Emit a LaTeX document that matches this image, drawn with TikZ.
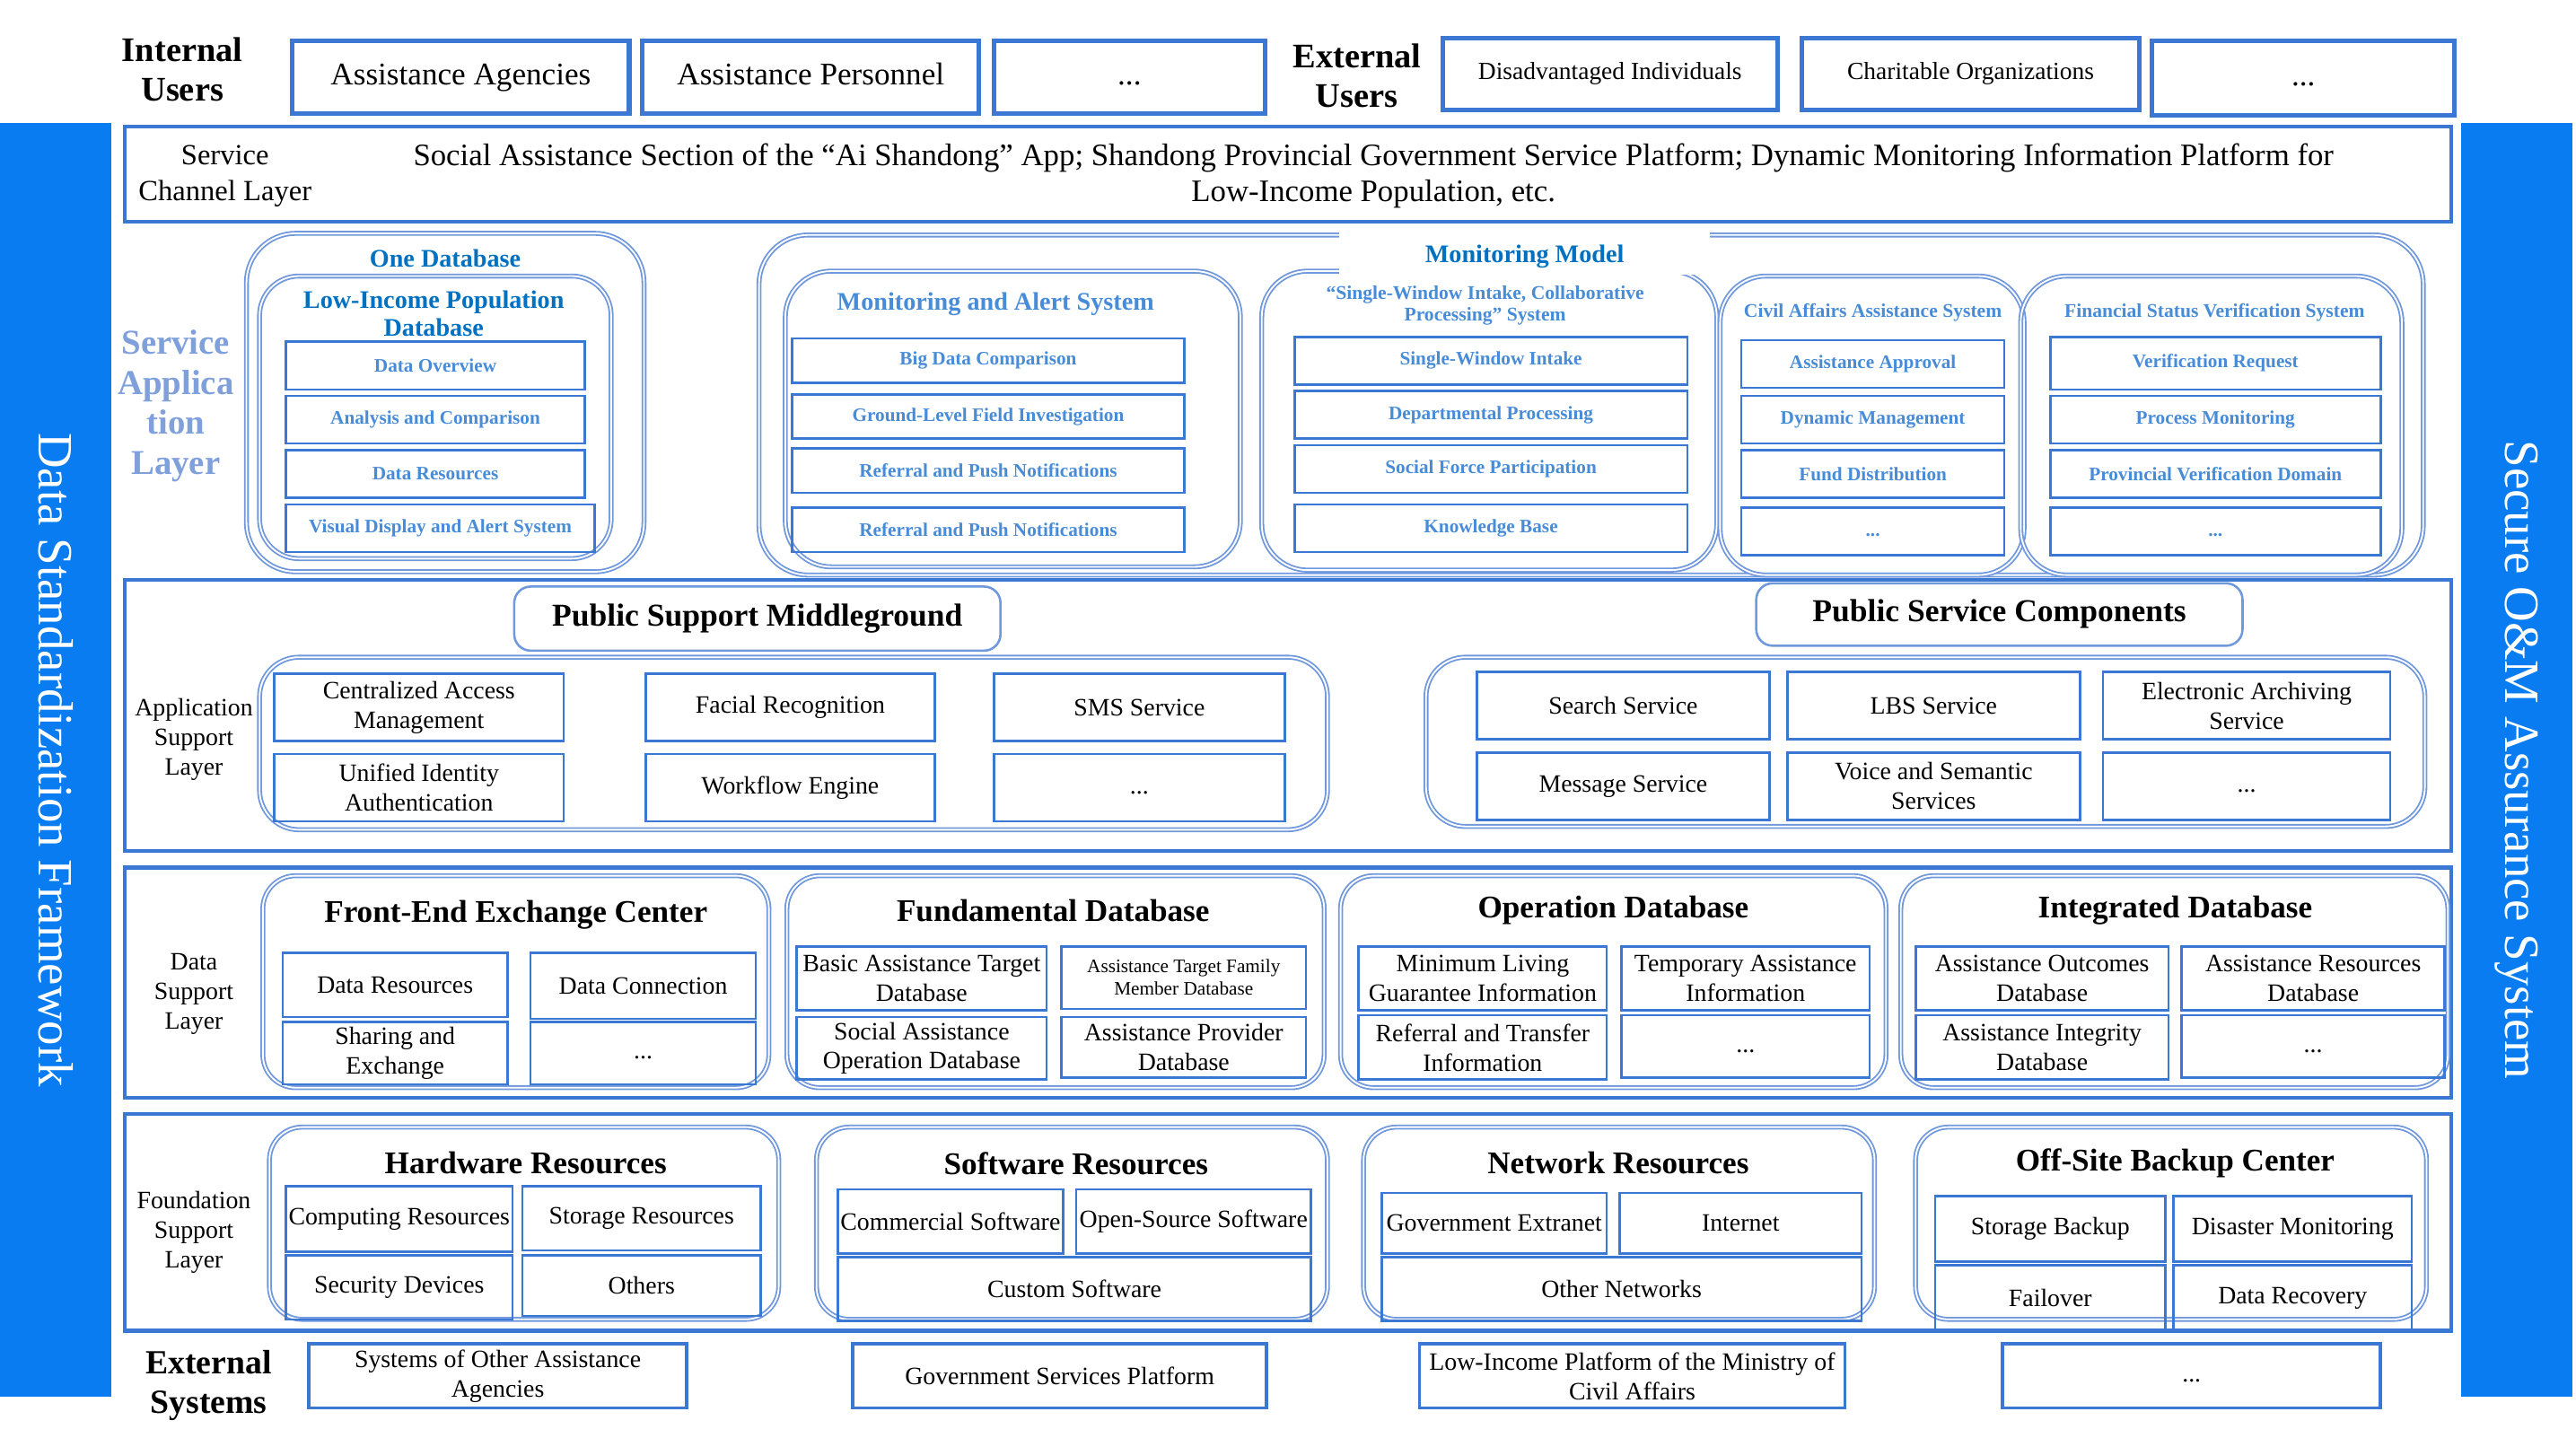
\documentclass[tikz,border=0pt]{standalone}
\usepackage{fontspec}
\setmainfont{Liberation Serif}
\usepackage{tikz}
\usetikzlibrary{fit}
\definecolor{barblue}{RGB}{8,124,240}
\definecolor{lineblue}{RGB}{59,120,211}
\definecolor{softblue}{RGB}{112,152,221}
\definecolor{titleblue}{RGB}{0,112,192}
\definecolor{itemblue}{RGB}{72,140,216}
\definecolor{layerblue}{RGB}{128,160,220}

\begin{document}
\begin{tikzpicture}[x=0.5pt,y=-0.5pt,
  usertxt/.style={align=center,font=\fontsize{9.6}{11}\selectfont},
  usersmtxt/.style={align=center,font=\fontsize{7.5}{9}\selectfont},
  itemtxt/.style={align=center,font=\fontsize{7.6}{9}\selectfont},
  itemsmtxt/.style={align=center,font=\fontsize{5.8}{6.8}\selectfont},
  apptxt/.style={align=center,text=itemblue,font=\bfseries\fontsize{5.8}{7}\selectfont},
  headtxt/.style={font=\bfseries\fontsize{9.7}{11}\selectfont},
  userbox/.style={draw=lineblue,line width=1.4pt,inner sep=0pt,label={[usertxt]center:{\strut #1}}},
  usersmbox/.style={draw=lineblue,line width=1.4pt,inner sep=0pt,label={[usersmtxt]center:{\strut #1}}},
  itembox/.style={draw=lineblue,line width=0.7pt,inner sep=0pt,label={[itemtxt]center:{#1}}},
  itemsmbox/.style={draw=lineblue,line width=0.7pt,inner sep=0pt,label={[itemsmtxt]center:{#1}}},
  extbox/.style={draw=lineblue,line width=1pt,inner sep=0pt,label={[itemtxt]center:{#1}}},
  appbox/.style={draw=lineblue,line width=0.7pt,inner sep=0pt,label={[apptxt]center:{#1}}},
  titlebox/.style={draw=softblue,line width=0.7pt,rounded corners=5pt,inner sep=0pt,label={[headtxt]center:{\strut #1}}},
  layerframe/.style={draw=lineblue,line width=1.2pt,inner sep=0pt},
  roundgrp/.style={draw=softblue,line width=0.5pt,double=white,double distance=0.5pt,rounded corners=#1,inner sep=0pt},
  roundgrp/.default=10pt,
  grptitle/.style={font=\bfseries\fontsize{9.6}{11}\selectfont},
  bluettl/.style={align=center,text=titleblue,font=\bfseries\fontsize{7.7}{8.6}\selectfont},
  appttl/.style={align=center,text=itemblue,font=\bfseries\fontsize{5.9}{6.6}\selectfont},
  lyrlbl/.style={align=center,font=\fontsize{7.6}{9}\selectfont},
  userlbl/.style={align=center,font=\bfseries\fontsize{10.5}{12}\selectfont},
  sidebar/.style={fill=barblue,inner sep=0pt},
  sidetext/.style={text=white,rotate=-90,font=\fontsize{15}{18}\selectfont}]
\useasboundingbox (0,0) rectangle (1568,875);

\node[sidebar,fit={(0,75) (68,850)}] (stdbar) {};
\node[sidetext] (stdtext) at (stdbar.center) {Data Standardization Framework};
\node[sidebar,fit={(1498,75) (1566,850)}] (secbar) {};
\node[sidetext] (sectext) at (secbar.center) {Secure O\&M Assurance System};

\node[userlbl] (intusers) at (111,42) {Internal\\Users};
\node[userbox={Assistance Agencies},fit={(178,25) (383,69)}] (agencies) {};
\node[userbox={Assistance Personnel},fit={(391,25) (596,69)}] (personnel) {};
\node[userbox={...},fit={(605,25) (770,69)}] (intmore) {};
\node[userlbl] (extusers) at (826,46) {External\\Users};
\node[usersmbox={Disadvantaged Individuals},fit={(878,23) (1082,67)}] (disadv) {};
\node[usersmbox={Charitable Organizations},fit={(1097,23) (1302,67)}] (charity) {};
\node[userbox={...},fit={(1310,25) (1494,70)}] (extmore) {};

\node[layerframe,fit={(76,77) (1492,135)}] (channel) {};
\node[align=center,font=\fontsize{8.9}{11}\selectfont] (channellbl) at (137,107) {Service\\Channel Layer};
\node[align=center,font=\fontsize{9.5}{11}\selectfont] (channeltxt) at (836,107) {Social Assistance Section of the “Ai Shandong” App; Shandong Provincial Government Service Platform; Dynamic Monitoring Information Platform for\\Low-Income Population, etc.};

\node[align=center,text=layerblue,font=\bfseries\fontsize{10.6}{12.2}\selectfont] (applbl) at (107,247) {Service\\Applica\\tion\\Layer};
\node[roundgrp=15pt,fit={(150,142) (392,348)}] (onedb) {};
\node[bluettl] (onedbttl) at (271,157) {One Database};
\node[roundgrp=12pt,fit={(158,168) (372,340)}] (lowdb) {};
\node[bluettl] (lowdbttl) at (264,191) {Low-Income Population\\Database};
\node[appbox={Data Overview},fit={(174,208) (356,237)}] (overview) {};
\node[appbox={Analysis and Comparison},fit={(174,241) (356,270)}] (analysis) {};
\node[appbox={Data Resources},fit={(174,274) (356,303)}] (datares) {};
\node[appbox={Visual Display and Alert System},fit={(174,307) (362,336)}] (visual) {};

\node[roundgrp=15pt,fit={(462,143) (1475,350)}] (monmodel) {};
\node[roundgrp=14pt,fit={(478,165) (755,345)}] (alertsys) {};
\node[appttl,font=\bfseries\fontsize{7.7}{8.6}\selectfont] (alertttl) at (606,185) {Monitoring and Alert System};
\node[appbox={Big Data Comparison},fit={(482,206) (721,233)}] (bigdata) {};
\node[appbox={Ground-Level Field Investigation},fit={(482,240) (721,267)}] (field) {};
\node[appbox={Referral and Push Notifications},fit={(482,273) (721,300)}] (referral) {};
\node[appbox={Referral and Push Notifications},fit={(482,309) (721,336)}] (pushnote) {};
\node[roundgrp=14pt,fit={(768,165) (1045,347)}] (swsys) {};
\node[fill=white,inner sep=0pt,fit={(815,141) (1041,167)}] (monpatch) {};
\node[bluettl] (monttl) at (928,156) {Monitoring Model};
\node[appttl] (swttl) at (904,186) {“Single-Window Intake, Collaborative\\Processing” System};
\node[appbox={Single-Window Intake},fit={(788,205) (1027,234)}] (intake) {};
\node[appbox={Departmental Processing},fit={(788,238) (1027,267)}] (dept) {};
\node[appbox={Social Force Participation},fit={(788,271) (1027,300)}] (social) {};
\node[appbox={Knowledge Base},fit={(788,307) (1027,336)}] (knowledge) {};
\node[roundgrp=14pt,fit={(1047,168) (1232,350)}] (civilsys) {};
\node[appttl] (civilttl) at (1140,190) {Civil Affairs Assistance System};
\node[appbox={Assistance Approval},fit={(1060,207) (1220,236)}] (approval) {};
\node[appbox={Dynamic Management},fit={(1060,241) (1220,270)}] (dynamic) {};
\node[appbox={Fund Distribution},fit={(1060,274) (1220,303)}] (fund) {};
\node[appbox={\strut...},fit={(1060,309) (1220,338)}] (civilmore) {};
\node[roundgrp=14pt,fit={(1230,168) (1462,350)}] (finsys) {};
\node[appttl] (finttl) at (1348,190) {Financial Status Verification System};
\node[appbox={Verification Request},fit={(1248,205) (1449,237)}] (verify) {};
\node[appbox={Process Monitoring},fit={(1248,241) (1449,270)}] (process) {};
\node[appbox={Provincial Verification Domain},fit={(1248,274) (1449,303)}] (domain) {};
\node[appbox={\strut...},fit={(1248,309) (1449,338)}] (finmore) {};

\node[layerframe,fit={(76,353) (1492,518)}] (appsup) {};
\node[lyrlbl] (appsuplbl) at (118,450) {Application\\Support\\Layer};
\node[titlebox={Public Support Middleground},fit={(313,357) (609,396)}] (middle) {};
\node[titlebox={Public Service Components},fit={(1069,355) (1365,393)}] (pubcomp) {};
\node[roundgrp=12pt,fit={(158,400) (808,505)}] (middlegrp) {};
\node[itembox={Centralized Access\\Management},fit={(167,410) (343,451)}] (access) {};
\node[itembox={Facial Recognition},fit={(393,410) (569,451)}] (facial) {};
\node[itembox={SMS Service},fit={(605,410) (782,451)}] (sms) {};
\node[itembox={Unified Identity\\Authentication},fit={(167,459) (343,500)}] (identity) {};
\node[itembox={Workflow Engine},fit={(393,459) (569,500)}] (workflow) {};
\node[itembox={\strut...},fit={(605,459) (782,500)}] (middlemore) {};
\node[roundgrp=12pt,fit={(868,400) (1476,503)}] (compgrp) {};
\node[itembox={Search Service},fit={(899,409) (1077,450)}] (search) {};
\node[itembox={LBS Service},fit={(1088,409) (1266,450)}] (lbs) {};
\node[itembox={Electronic Archiving\\Service},fit={(1280,409) (1455,450)}] (archive) {};
\node[itembox={Message Service},fit={(899,458) (1077,499)}] (message) {};
\node[itembox={Voice and Semantic\\Services},fit={(1088,458) (1266,499)}] (voice) {};
\node[itembox={\strut...},fit={(1280,458) (1455,499)}] (compmore) {};

\node[layerframe,fit={(76,528) (1492,668)}] (datasup) {};
\node[lyrlbl] (datasuplbl) at (118,605) {Data\\Support\\Layer};
\node[roundgrp,fit={(160,533) (468,662)}] (frontend) {};
\node[grptitle] (frontttl) at (314,557) {Front-End Exchange Center};
\node[itembox={Data Resources},fit={(172,580) (309,619)}] (fedata) {};
\node[itembox={Data Connection},fit={(323,580) (460,620)}] (feconn) {};
\node[itembox={Sharing and\\Exchange},fit={(172,622) (309,660)}] (feshare) {};
\node[itembox={\strut...},fit={(323,622) (460,660)}] (femore) {};
\node[roundgrp,fit={(479,533) (806,662)}] (funddb) {};
\node[grptitle] (fundttl) at (641,554) {Fundamental Database};
\node[itembox={Basic Assistance Target\\Database},fit={(485,576) (637,615)}] (target) {};
\node[itemsmbox={Assistance Target Family\\Member Database},fit={(646,576) (795,614)}] (family) {};
\node[itembox={Social Assistance\\Operation Database},fit={(485,619) (637,657)}] (operation) {};
\node[itembox={Assistance Provider\\Database},fit={(646,619) (795,656)}] (provider) {};
\node[roundgrp,fit={(816,533) (1148,662)}] (opdb) {};
\node[grptitle] (opttl) at (982,554) {Operation Database};
\node[itembox={Minimum Living\\Guarantee Information},fit={(827,576) (978,615)}] (minliving) {};
\node[itembox={Temporary Assistance\\Information},fit={(987,576) (1138,615)}] (temporary) {};
\node[itembox={Referral and Transfer\\Information},fit={(827,618) (978,657)}] (transfer) {};
\node[itembox={\strut...},fit={(987,618) (1138,656)}] (opmore) {};
\node[roundgrp,fit={(1157,533) (1490,662)}] (intdb) {};
\node[grptitle] (intttl) at (1324,554) {Integrated Database};
\node[itembox={Assistance Outcomes\\Database},fit={(1166,576) (1320,615)}] (outcomes) {};
\node[itembox={Assistance Resources\\Database},fit={(1328,576) (1488,615)}] (resources) {};
\node[itembox={Assistance Integrity\\Database},fit={(1166,618) (1320,657)}] (integrity) {};
\node[itembox={\strut...},fit={(1328,618) (1488,656)}] (intmore2) {};

\node[layerframe,fit={(76,678) (1492,810)}] (foundsup) {};
\node[lyrlbl] (foundlbl) at (118,750) {Foundation\\Support\\Layer};
\node[roundgrp,fit={(164,686) (474,803)}] (hardware) {};
\node[grptitle] (hwttl) at (320,708) {Hardware Resources};
\node[itembox={Computing Resources},fit={(174,722) (312,762)}] (computing) {};
\node[itembox={Storage Resources},fit={(318,722) (463,761)}] (storage) {};
\node[itembox={Security Devices},fit={(174,764) (312,803)}] (security) {};
\node[itembox={Others},fit={(318,764) (463,801)}] (others) {};
\node[roundgrp,fit={(497,686) (808,803)}] (software) {};
\node[grptitle] (swrttl) at (655,708) {Software Resources};
\node[itembox={Commercial Software},fit={(510,724) (647,763)}] (commercial) {};
\node[itembox={Open-Source Software},fit={(655,724) (798,763)}] (opensrc) {};
\node[itembox={Custom Software},fit={(510,765) (798,804)}] (custom) {};
\node[roundgrp,fit={(830,686) (1141,803)}] (network) {};
\node[grptitle] (netttl) at (985,708) {Network Resources};
\node[itembox={Government Extranet},fit={(841,726) (978,763)}] (extranet) {};
\node[itembox={Internet},fit={(986,726) (1133,763)}] (internet) {};
\node[itembox={Other Networks},fit={(841,765) (1133,804)}] (othernet) {};
\node[roundgrp,fit={(1166,686) (1477,803)}] (backup) {};
\node[grptitle] (bakttl) at (1324,708) {Off-Site Backup Center};
\node[itembox={Storage Backup},fit={(1178,728) (1318,768)}] (stbackup) {};
\node[itembox={Disaster Monitoring},fit={(1323,728) (1468,768)}] (disaster) {};
\node[itembox={Failover},fit={(1178,770) (1318,810)}] (failover) {};
\node[itembox={Data Recovery},fit={(1323,770) (1468,810)}] (recovery) {};

\node[userlbl,font=\bfseries\fontsize{10.3}{12}\selectfont] (extsys) at (127,843) {External\\Systems};
\node[extbox={Systems of Other Assistance\\Agencies},fit={(188,818) (418,857)}] (othersys) {};
\node[extbox={Government Services Platform},fit={(519,818) (771,857)}] (govplat) {};
\node[extbox={Low-Income Platform of the Ministry of\\Civil Affairs},fit={(864,818) (1123,857)}] (ministry) {};
\node[extbox={\strut...},fit={(1219,818) (1449,857)}] (extsysmore) {};
\end{tikzpicture}
\end{document}
